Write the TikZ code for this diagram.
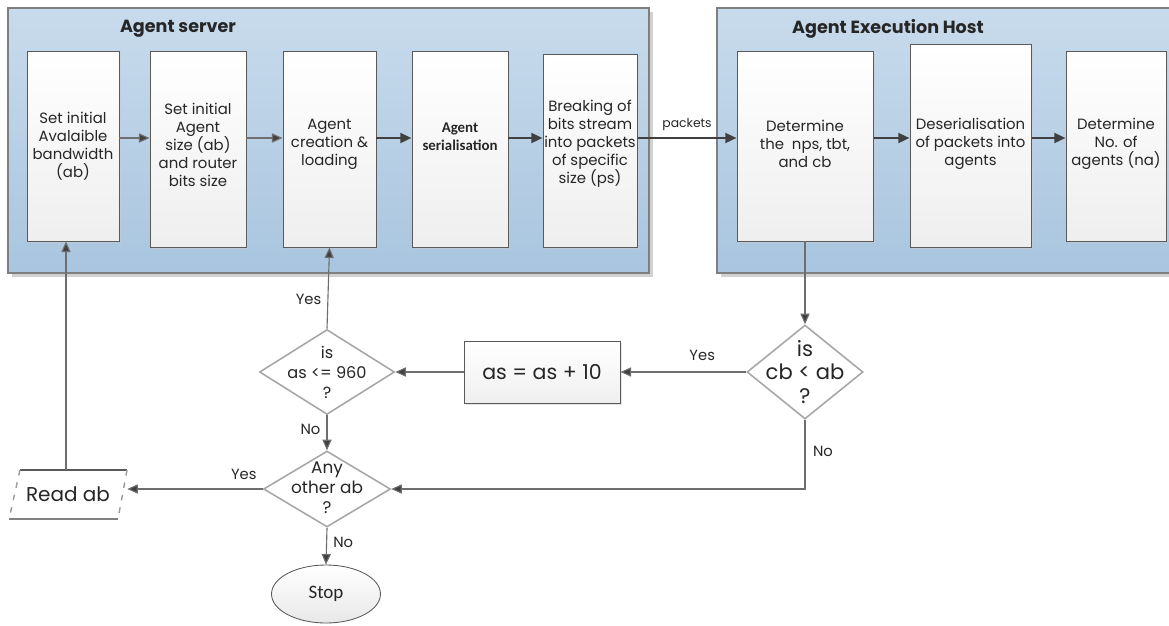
\documentclass[tikz,border=0pt]{standalone}
\usepackage{fontspec}
\setmainfont{Poppins}
\newfontfamily\calfont{Carlito}
\usetikzlibrary{arrows.meta,shapes.geometric,shadows,calc}
\definecolor{contline}{HTML}{7F7F7F}
\definecolor{conttop}{HTML}{C8DBEC}
\definecolor{contbot}{HTML}{A9C5DF}
\definecolor{boxline}{HTML}{5A5A5A}
\definecolor{txt}{HTML}{262626}
\definecolor{arrowc}{HTML}{6E6E6E}
\definecolor{tipc}{HTML}{404040}
\definecolor{dline}{HTML}{A6A6A6}
\tikzset{
  container/.style={draw=contline, line width=0.8pt, top color=conttop, bottom color=contbot,
    drop shadow={shadow xshift=2.5pt, shadow yshift=-2.5pt, fill=gray!45, opacity=0.8}},
  title/.style={font=\bfseries\fontsize{12.5}{14}\selectfont, text=txt},
  box/.style={draw=boxline, line width=0.7pt, top color=white, bottom color=gray!13,
    drop shadow={shadow xshift=1.5pt, shadow yshift=-1.5pt, fill=gray!40, opacity=0.5}},
  btext/.style={font=\fontsize{10.6}{12.8}\selectfont, text=txt, align=center},
  thin/.style={draw=arrowc, line width=0.8pt, -{Triangle[length=7.5pt,width=6.5pt,fill=tipc]}},
  thick/.style={draw=tipc, line width=1.7pt, -{Triangle[length=8pt,width=7pt,fill=tipc]}},
  dec/.style={diamond, draw=dline, line width=1.1pt, fill=white, inner sep=0pt},
  dtext/.style={text=txt, align=center},
  lbl/.style={font=\fontsize{10.5}{12}\selectfont, text=txt}
}
\begin{document}
\begin{tikzpicture}[x=0.025cm, y=-0.025cm]
\useasboundingbox (0,0) rectangle (1169,625);
\clip (0,0) rectangle (1169,625);

% containers
\node[container, minimum width=641*0.025cm, minimum height=265*0.025cm] (srv) at (328.5,140.5) {};
\node[container, minimum width=470*0.025cm, minimum height=265*0.025cm] (host) at (952,140.5) {};
\node[title] (srvt) at (178,29) {Agent server};
\node[title] (hostt) at (888,29) {Agent Execution Host};

% boxes
\node[box, minimum width=92*0.025cm, minimum height=190*0.025cm,
  label={[btext]center:Set initial\\Avalaible\\bandwidth\\(ab)}] (b1) at (73,146) {};
\node[box, minimum width=96*0.025cm, minimum height=196*0.025cm,
  label={[btext, yshift=3pt]center:Set initial\\Agent\\size (ab)\\and router\\bits size}] (b2) at (198,149) {};
\node[box, minimum width=93*0.025cm, minimum height=196*0.025cm,
  label={[btext, yshift=3pt]center:Agent\\creation \&\\loading}] (b3) at (329.5,149) {};
\node[box, minimum width=96*0.025cm, minimum height=196*0.025cm,
  label={[btext, font=\calfont\bfseries\fontsize{10.6}{12.8}\selectfont, yshift=9pt]center:Agent\\serialisation}] (b4) at (460,149) {};
\node[box, minimum width=94*0.025cm, minimum height=193*0.025cm,
  label={[btext, yshift=4.5pt]center:Breaking of\\bits stream\\into packets\\of specific\\size (ps)}] (b5) at (590,150.5) {};
\node[box, minimum width=136*0.025cm, minimum height=190*0.025cm,
  label={[btext, yshift=1.5pt]center:Determine\\the\ \ nps, tbt,\\and cb}] (b6) at (805,146) {};
\node[box, minimum width=121*0.025cm, minimum height=203*0.025cm,
  label={[btext, yshift=1pt]center:Deserialisation\\of packets into\\agents}] (b7) at (970.5,145.5) {};
\node[box, minimum width=100*0.025cm, minimum height=190*0.025cm,
  label={[btext, yshift=1.5pt]center:Determine\\No. of\\agents (na)}] (b8) at (1116,146) {};

% row arrows
\coordinate (ar) at (0,138);
\draw[thin] (b1.east |- ar) -- (b2.west |- ar);
\draw[thin] (b2.east |- ar) -- (b3.west |- ar);
\draw[thick] (b3.east |- ar) -- (b4.west |- ar);
\draw[thick] (b4.east |- ar) -- (b5.west |- ar);
\draw[thick] (b5.east |- ar) -- node[lbl, font=\fontsize{8.8}{10}\selectfont, above=1pt] (pk) {packets} (b6.west |- ar);
\draw[thick] (b6.east |- ar) -- (b7.west |- ar);
\draw[thick] (b7.east |- ar) -- (b8.west |- ar);

% decisions and process
\node[dec, minimum width=116*0.025cm, minimum height=94*0.025cm,
  label={[dtext, font=\fontsize{15}{17}\selectfont]center:is\\cb < ab\\?}] (cb) at (805,372) {};
\node[draw=gray!70!black, line width=0.7pt, top color=white, bottom color=gray!12,
  minimum width=156*0.025cm, minimum height=62*0.025cm,
  font=\fontsize{14.6}{18}\selectfont, text=txt,
  drop shadow={shadow xshift=1.5pt, shadow yshift=-1.5pt, fill=gray!40, opacity=0.5}] (inc) at (542,372) {as = as + 10};
\node[dec, minimum width=135*0.025cm, minimum height=85*0.025cm,
  label={[dtext, font=\fontsize{11.5}{14.2}\selectfont]center:is\\as <= 960\\?}] (d1) at (327,372) {};
\node[dec, minimum width=127*0.025cm, minimum height=76*0.025cm,
  label={[dtext, font=\fontsize{12}{14.4}\selectfont, yshift=1pt]center:Any\\other ab\\?}] (d2) at (327,489) {};

% read ab
\node[minimum width=118*0.025cm, minimum height=49*0.025cm, inner sep=0pt,
  font=\fontsize{14.2}{16}\selectfont, text=txt] (read) at (68,494.5) {Read ab};
\draw[boxline, line width=0.9pt] (20,470) -- (127,470);
\draw[gray, line width=0.9pt] (9,519) -- (118,519);
\draw[gray!80, line width=1pt, dash pattern=on 4pt off 5pt] (20,470) -- (9,519);
\draw[gray!80, line width=1pt, dash pattern=on 4pt off 5pt] (127,470) -- (118,519);

% stop
\node[ellipse, draw=gray!70!black, line width=0.6pt, top color=white, bottom color=gray!18,
  minimum width=109*0.025cm, minimum height=58*0.025cm,
  font=\calfont\fontsize{13.5}{15}\selectfont, text=txt] (stop) at (326,594) {Stop};

% connectors
\draw[thin] (b6.south) -- (cb.north);
\draw[thin] (cb.west) -- node[lbl, above=4pt, pos=0.35] (y1) {Yes} (inc.east);
\draw[thin] (inc.west) -- (d1.east);
\draw[thin] (d1.north) -- node[lbl, left=1pt, pos=0.36] (y2) {Yes} (b3.south);
\draw[thin] (d1.south) -- node[lbl, left=1pt, pos=0.4] (n1) {No} (d2.north);
\coordinate (cbturn) at (cb.south |- d2.east);
\draw[thin] (cb.south) -- node[lbl, right=2pt, pos=0.45] (n2) {No} (cbturn) -- (d2.east);
\draw[thin] (d2.west) -- node[lbl, above=3pt, pos=0.14] (y3) {Yes} (read.east |- d2.west);
\coordinate (rtop) at (66,470);
\draw[thin] (rtop) -- (b1.south -| rtop);
\draw[thin] (d2.south) -- node[lbl, right=1pt, pos=0.4] (n3) {No} (stop.north);
\end{tikzpicture}
\end{document}
